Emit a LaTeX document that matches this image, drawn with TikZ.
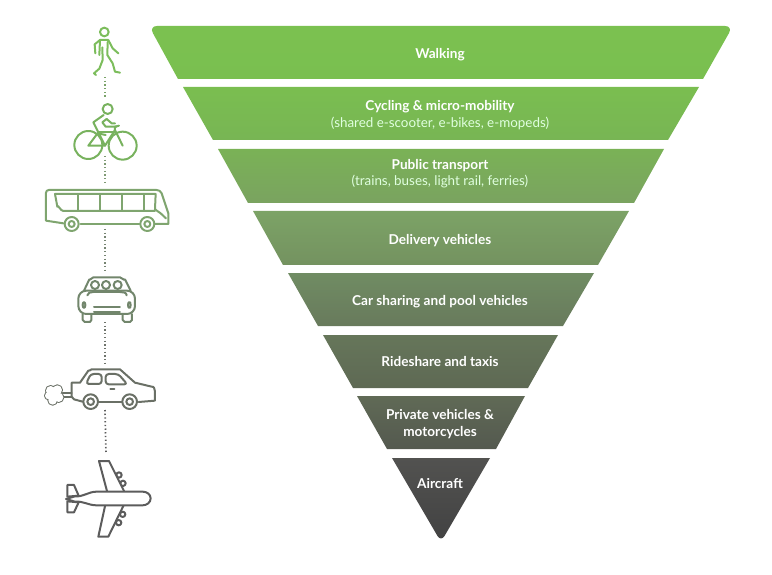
\documentclass[tikz,border=0pt]{standalone}
\usepackage{fontspec}
\setmainfont{Lato}
\usetikzlibrary{positioning, calc}

\definecolor{walkcol}{HTML}{7CBD5C}
\definecolor{bikecol}{HTML}{78B25E}
\definecolor{buscol}{HTML}{7FA56F}
\definecolor{carcol}{HTML}{72866C}
\definecolor{sedancol}{HTML}{6A7066}
\definecolor{planecol}{HTML}{5C5C5C}

\definecolor{walktop}{HTML}{7BC150}
\definecolor{walkbot}{HTML}{7ABF50}
\definecolor{biketop}{HTML}{7ABE50}
\definecolor{bikebot}{HTML}{78B554}
\definecolor{bustop}{HTML}{7AB256}
\definecolor{busbot}{HTML}{7AA360}
\definecolor{delitop}{HTML}{7CA366}
\definecolor{delibot}{HTML}{749260}
\definecolor{pooltop}{HTML}{708C63}
\definecolor{poolbot}{HTML}{687A5C}
\definecolor{ridetop}{HTML}{66765A}
\definecolor{ridebot}{HTML}{5E6954}
\definecolor{privtop}{HTML}{606A56}
\definecolor{privbot}{HTML}{54594F}
\definecolor{airtop}{HTML}{525250}
\definecolor{airbot}{HTML}{424242}

\tikzset{
    band/.style={draw=none, line join=round},
    bandtext/.style={text=white, align=center, font=\fontsize{13.6}{16.5}\selectfont\bfseries, inner sep=0pt},
    subtext/.style={text=white!88!green, font=\fontsize{13.4}{16}\selectfont, inner sep=0pt},
    icon/.style={line width=2pt, line join=round, line cap=round},
    dotline/.style={line width=1.7pt, dash pattern=on 1.3pt off 2.4pt},
}

\begin{document}
\begin{tikzpicture}[x=1pt, y=-1pt]
    \useasboundingbox (0,0) rectangle (772,575);

    % funnel bands
    \shade[band, top color=walktop, bottom color=walkbot]
        (178,79) [rounded corners=8pt] -- (149,26) -- (733,26) [sharp corners] -- (703,79) -- cycle;
    \shade[band, top color=biketop, bottom color=bikebot]
        (183,87) -- (699,87) -- (668,140) -- (213,140) -- cycle;
    \shade[band, top color=bustop, bottom color=busbot]
        (218,149) -- (664,149) -- (634,203) -- (248,203) -- cycle;
    \shade[band, top color=delitop, bottom color=delibot]
        (253,211) -- (629,211) -- (598,265) -- (283,265) -- cycle;
    \shade[band, top color=pooltop, bottom color=poolbot]
        (288,273) -- (594,273) -- (563,326) -- (318,326) -- cycle;
    \shade[band, top color=ridetop, bottom color=ridebot]
        (323,335) -- (558,335) -- (528,388) -- (353,388) -- cycle;
    \shade[band, top color=privtop, bottom color=privbot]
        (357,396) -- (525,396) -- (496,449) -- (387,449) -- cycle;
    \shade[band, top color=airtop, bottom color=airbot]
        (392,458) -- (490,458) [rounded corners=7pt] -- (441,542) [sharp corners] -- cycle;

    \node[bandtext] (walking) at (440,54.5) {Walking};
    \node[bandtext] (cycling) at (440,107) {Cycling \& micro-mobility};
    \node[subtext, below=3pt of cycling] (cyclingsub) {(shared e-scooter, e-bikes, e-mopeds)};
    \node[bandtext] (public) at (440,166) {Public transport};
    \node[subtext, below=3pt of public] (publicsub) {(trains, buses, light rail, ferries)};
    \node[bandtext] (delivery) at (440,240.5) {Delivery vehicles};
    \node[bandtext] (sharing) at (440,301.5) {Car sharing and pool vehicles};
    \node[bandtext] (rideshare) at (440,362) {Rideshare and taxis};
    \node[bandtext] (private) at (440,424) {Private vehicles \&\\motorcycles};
    \node[bandtext] (aircraft) at (440,484) {Aircraft};

    % walker
    \begin{scope}[shift={(70,20)}, x=0.3333pt, y=-0.3333pt, icon, draw=walkcol]
        \draw (103,36) circle (13);
        \draw (76,100) -- (74,73) -- (90,60) -- (115,60) -- (128,85) -- (145,100);
        \draw (90,60) -- (88,105);
        \draw (97,82) -- (98,120) -- (88,146) -- (72,160) -- (78,165);
        \draw (113,66) -- (112,105) -- (128,130) -- (135,155) -- (150,158);
    \end{scope}

    % cyclist
    \begin{scope}[shift={(65,95)}, x=0.3333pt, y=-0.3333pt, icon, draw=bikecol]
        \draw (128,42) circle (15);
        \draw (70,150) circle (42);
        \draw (173,152) circle (42);
        \draw (70,152) -- (100,112) -- (120,152) -- cycle;
        \draw (120,152) -- (150,105) -- (173,152);
        \draw (100,112) -- (150,112);
        \draw (150,105) -- (150,95) -- (162,92);
        \draw (116,60) -- (85,82) -- (102,116) -- (122,120);
        \draw (125,72) -- (112,82) -- (122,95) -- (155,95);
        \draw (125,72) -- (140,85) -- (150,85);
    \end{scope}

    % bus
    \begin{scope}[shift={(40,180)}, x=0.3333pt, y=-0.3333pt, icon, draw=buscol]
        \draw (70,130) -- (18,122) -- (18,38) to[out=90, in=180] (26,30) -- (350,30) to[out=0, in=115] (365,40) -- (385,100) -- (385,132) -- (345,132);
        \draw (122,133) -- (298,133);
        \draw (45,42) -- (347,42) -- (345,88) -- (362,100) -- (378,115);
        \draw (45,42) -- (52,80) to[out=80, in=180] (70,93) -- (345,93);
        \foreach \winx in {113,180,247,313}
            \draw (\winx,42) -- (\winx,93);
        \foreach \whlx in {95,322} {
            \draw (\whlx,132) circle (21);
            \draw (\whlx,132) circle (9);
        }
    \end{scope}

    % car with passengers
    \begin{scope}[shift={(70,270)}, x=0.3333pt, y=-0.3333pt, icon, draw=carcol]
        \draw (42,62) -- (58,28) to[out=-60, in=180] (70,22) -- (150,22) to[out=0, in=-120] (165,28) -- (182,62);
        \draw[rounded corners=8pt] (25,62) rectangle (195,132);
        \foreach \headx in {75,108,143}
            \draw (\headx,45) circle (12);
        \draw (52,76) to[out=90, in=180] (70,66) -- (150,66) to[out=0, in=90] (170,76);
        \draw (42,105) ellipse (4 and 9);
        \draw (178,105) ellipse (4 and 9);
        \draw (72,112) -- (150,112);
        \draw (72,125) -- (150,125);
        \draw (38,132) -- (38,150) -- (44,156) -- (60,156) -- (64,150) -- (64,132);
        \draw (158,132) -- (158,150) -- (164,156) -- (180,156) -- (186,150) -- (186,132);
    \end{scope}

    % sedan with exhaust
    \begin{scope}[shift={(40,360)}, x=0.3333pt, y=-0.3333pt, icon, draw=sedancol]
        \draw (128,125) -- (102,118) -- (95,110) -- (95,68) -- (120,68) -- (145,32) to[out=-45, in=180] (155,28) -- (240,28) -- (285,68) -- (335,80) to[out=15, in=90] (345,95) -- (345,122) -- (296,126);
        \draw (175,127) -- (245,127);
        \draw (152,125) circle (22);
        \draw (152,125) circle (10);
        \draw (269,125) circle (22);
        \draw (269,125) circle (10);
        \draw[rounded corners=3pt] (138,72) -- (152,42) -- (185,42) -- (185,72) -- cycle;
        \draw[rounded corners=3pt] (197,42) -- (235,42) -- (262,73) -- (197,73) -- cycle;
        \draw (211,88) -- (223,88);
        \draw (95,100) -- (68,100);
        \draw (95,112) -- (72,112);
        \foreach \lobex/\lobey/\lober in {32/92/14, 52/90/14, 56/112/14, 38/121/13, 26/107/11}
            \draw (\lobex,\lobey) circle (\lober);
        \foreach \lobex/\lobey/\lober in {32/92/14, 52/90/14, 56/112/14, 38/121/13, 26/107/11, 42/105/12}
            \fill[white] (\lobex,\lobey) circle (\lober);
    \end{scope}

    % plane
    \begin{scope}[shift={(60,455)}, x=0.3333pt, y=-0.3333pt, icon, draw=planecol]
        \foreach \engy/\engx in {60/177, 85/189, 178/188, 203/176}
            \draw (\engx,\engy) circle (8);
        \draw[fill=white] (142,112) -- (117,18) -- (147,18) -- (194,112) -- cycle;
        \draw[fill=white] (136,149) -- (115,245) -- (145,245) -- (192,149) -- cycle;
        \draw[fill=white] (22,125) -- (22,90) -- (42,90) -- (56,122) -- cycle;
        \draw[fill=white] (22,139) -- (22,172) -- (42,172) -- (56,142) -- cycle;
        \draw[fill=white] (18,132) -- (45,124) to[out=-5, in=180] (110,110) -- (248,110) to[out=0, in=90] (272,130) to[out=-90, in=0] (248,151) -- (110,151) to[out=180, in=5] (45,140) -- cycle;
    \end{scope}

    % dotted links between icons
    \coordinate (walkerfoot) at (105,77);
    \coordinate (bikehead) at (105,98);
    \coordinate (bikewheel) at (105,156);
    \coordinate (busroof) at (105,185);
    \coordinate (busfloor) at (105,229);
    \coordinate (carroof) at (105,270);
    \coordinate (carfloor) at (105,322);
    \coordinate (sedanroof) at (105,365);
    \coordinate (sedanfloor) at (105,410);
    \coordinate (planetop) at (106,454);
    \draw[dotline, color=bikecol!70!gray] (walkerfoot) -- (bikehead);
    \draw[dotline, color=buscol!70!gray] (bikewheel) -- (busroof);
    \draw[dotline, color=carcol!70!gray] (busfloor) -- (carroof);
    \draw[dotline, color=sedancol!80!gray] (carfloor) -- (sedanroof);
    \draw[dotline, color=planecol] (sedanfloor) -- (planetop);
\end{tikzpicture}
\end{document}
